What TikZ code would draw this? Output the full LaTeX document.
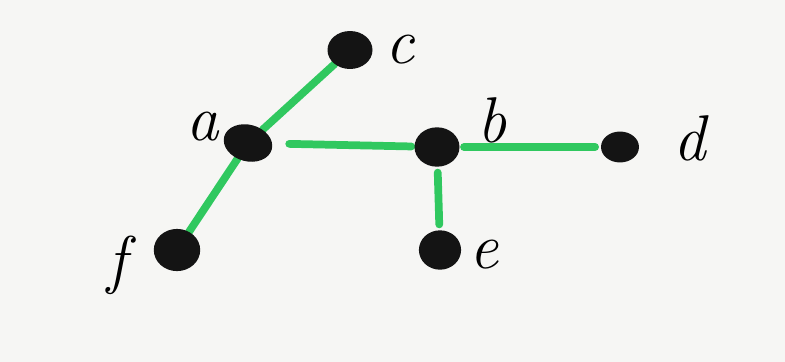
\documentclass[tikz,border=0pt]{standalone}
\usepackage{fontspec}
\usetikzlibrary{shapes.geometric,backgrounds}
\definecolor{edgegreen}{RGB}{48,200,95}
\definecolor{paper}{RGB}{246,246,244}
\tikzset{
  dot/.style={ellipse,fill=black!92,inner sep=0pt},
  lbl/.style={font=\fontsize{46}{50}\selectfont\itshape,inner sep=0pt},
  edge/.style={edgegreen,line width=5.5pt,line cap=round}
}
\begin{document}
\begin{tikzpicture}[x=0.025cm,y=-0.025cm]
\useasboundingbox (0,0) rectangle (785,362);
% the vertices
\node[dot,minimum width=35,minimum height=26,rotate=-15] (a) at (248,143) {};
\node[dot,minimum width=32,minimum height=28] (b) at (437,147) {};
\node[dot,minimum width=32,minimum height=27] (c) at (350,50) {};
\node[dot,minimum width=27,minimum height=22] (d) at (620,147) {};
\node[dot,minimum width=30,minimum height=28] (e) at (440,250) {};
\node[dot,minimum width=33,minimum height=30] (f) at (177,250) {};
% their names
\node[lbl] (la) at (203,127) {a};
\node[lbl] (lb) at (492,120) {b};
\node[lbl] (lc) at (400,50) {c};
\node[lbl] (ld) at (690,138) {d};
\node[lbl] (le) at (484,255) {e};
\node[lbl] (lf) at (117,265) {f};
% the edges, under the dots
\begin{scope}[on background layer]
\fill[paper] (0,0) rectangle (785,362);
\draw[edge] (a) -- (c);
\draw[edge] (a) -- (f);
\draw[edge,shorten <=12pt,shorten >=2pt] (a) -- (b);
\draw[edge,shorten <=3pt,shorten >=4pt] (b) -- (d);
\draw[edge,shorten <=4pt,shorten >=4pt] (b) -- (e);
\end{scope}
\end{tikzpicture}
\end{document}
